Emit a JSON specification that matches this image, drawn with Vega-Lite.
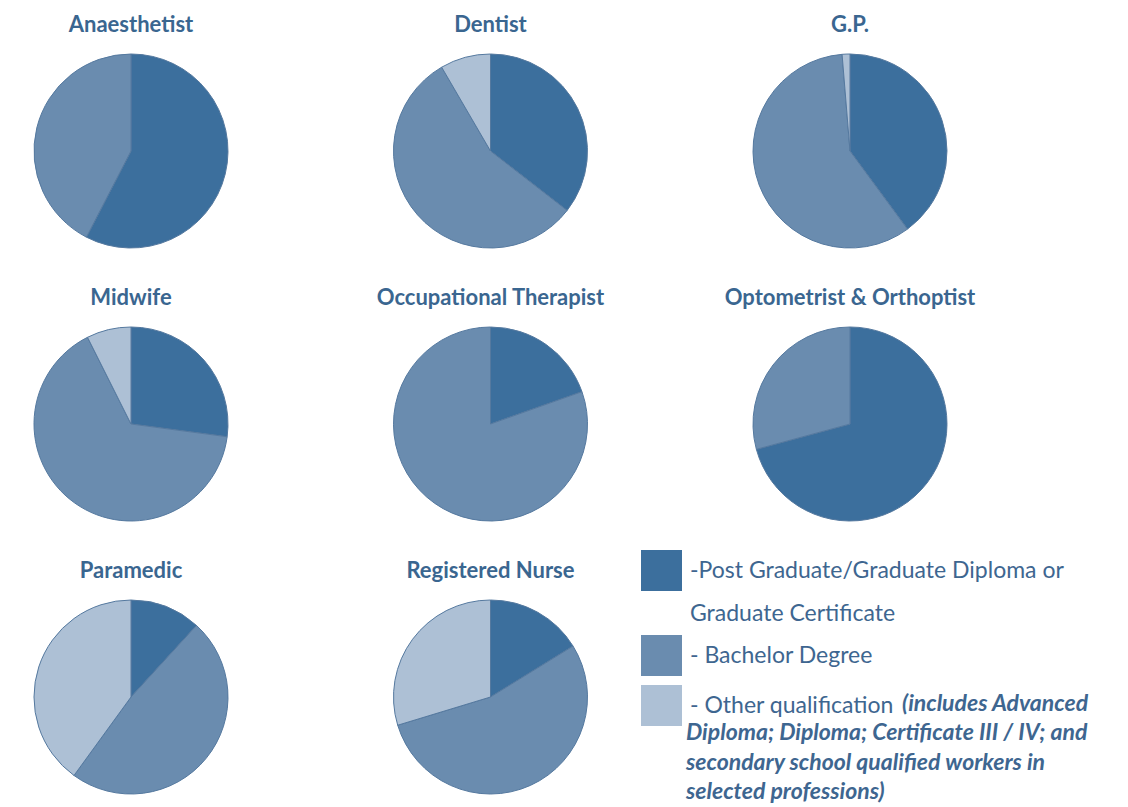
{
  "$schema": "https://vega.github.io/schema/vega-lite/v6.json",
  "width": 1128,
  "height": 807,
  "padding": 0,
  "autosize": {"type": "none"},
  "background": "white",
  "config": {"view": {"stroke": null}, "style": {"guide-label": {"lineHeight": 43}}},
  "datasets": {
    "pies": [
      {"job": "Anaesthetist", "col": 0, "row": 0, "qual": "Post Graduate/Graduate Diploma or Graduate Certificate", "order": 1, "pct": 57.6},
      {"job": "Anaesthetist", "col": 0, "row": 0, "qual": "Bachelor Degree", "order": 2, "pct": 42.4},
      {"job": "Dentist", "col": 1, "row": 0, "qual": "Post Graduate/Graduate Diploma or Graduate Certificate", "order": 1, "pct": 35.5},
      {"job": "Dentist", "col": 1, "row": 0, "qual": "Bachelor Degree", "order": 2, "pct": 56.1},
      {"job": "Dentist", "col": 1, "row": 0, "qual": "Other qualification", "order": 3, "pct": 8.4},
      {"job": "G.P.", "col": 2, "row": 0, "qual": "Post Graduate/Graduate Diploma or Graduate Certificate", "order": 1, "pct": 39.9},
      {"job": "G.P.", "col": 2, "row": 0, "qual": "Bachelor Degree", "order": 2, "pct": 58.8},
      {"job": "G.P.", "col": 2, "row": 0, "qual": "Other qualification", "order": 3, "pct": 1.3},
      {"job": "Midwife", "col": 0, "row": 1, "qual": "Post Graduate/Graduate Diploma or Graduate Certificate", "order": 1, "pct": 27.1},
      {"job": "Midwife", "col": 0, "row": 1, "qual": "Bachelor Degree", "order": 2, "pct": 65.5},
      {"job": "Midwife", "col": 0, "row": 1, "qual": "Other qualification", "order": 3, "pct": 7.4},
      {"job": "Occupational Therapist", "col": 1, "row": 1, "qual": "Post Graduate/Graduate Diploma or Graduate Certificate", "order": 1, "pct": 19.6},
      {"job": "Occupational Therapist", "col": 1, "row": 1, "qual": "Bachelor Degree", "order": 2, "pct": 80.4},
      {"job": "Optometrist & Orthoptist", "col": 2, "row": 1, "qual": "Post Graduate/Graduate Diploma or Graduate Certificate", "order": 1, "pct": 70.8},
      {"job": "Optometrist & Orthoptist", "col": 2, "row": 1, "qual": "Bachelor Degree", "order": 2, "pct": 29.2},
      {"job": "Paramedic", "col": 0, "row": 2, "qual": "Post Graduate/Graduate Diploma or Graduate Certificate", "order": 1, "pct": 11.8},
      {"job": "Paramedic", "col": 0, "row": 2, "qual": "Bachelor Degree", "order": 2, "pct": 48.2},
      {"job": "Paramedic", "col": 0, "row": 2, "qual": "Other qualification", "order": 3, "pct": 40.0},
      {"job": "Registered Nurse", "col": 1, "row": 2, "qual": "Post Graduate/Graduate Diploma or Graduate Certificate", "order": 1, "pct": 16.2},
      {"job": "Registered Nurse", "col": 1, "row": 2, "qual": "Bachelor Degree", "order": 2, "pct": 54.1},
      {"job": "Registered Nurse", "col": 1, "row": 2, "qual": "Other qualification", "order": 3, "pct": 29.7}
    ],
    "titles": [
      {"job": "Anaesthetist", "col": 0, "row": 0},
      {"job": "Dentist", "col": 1, "row": 0},
      {"job": "G.P.", "col": 2, "row": 0},
      {"job": "Midwife", "col": 0, "row": 1},
      {"job": "Occupational Therapist", "col": 1, "row": 1},
      {"job": "Optometrist & Orthoptist", "col": 2, "row": 1},
      {"job": "Paramedic", "col": 0, "row": 2},
      {"job": "Registered Nurse", "col": 1, "row": 2}
    ],
    "noteHead": [
      {"col": 2, "row": 2, "note": "(includes Advanced"}
    ],
    "noteBody": [
      {"col": 2, "row": 2, "note": ["Diploma; Diploma; Certificate III / IV; and", "secondary school  qualified workers in", "selected professions)"]}
    ]
  },
  "layer": [
    {
      "data": {"name": "pies"},
      "transform": [
        {"stack": "pct", "groupby": ["job"], "sort": [{"field": "order", "order": "ascending"}], "as": ["p0", "p1"]}
      ],
      "mark": {"type": "arc", "outerRadius": 97, "stroke": "#55799f", "strokeWidth": 1},
      "encoding": {
        "x": {"field": "col", "type": "ordinal", "scale": {"type": "point", "domain": [0, 1, 2], "range": [131, 850], "padding": 0}, "axis": null},
        "y": {"field": "row", "type": "ordinal", "scale": {"type": "point", "domain": [0, 1, 2], "range": [151, 697], "padding": 0}, "axis": null},
        "theta": {"field": "p0", "type": "quantitative", "scale": {"domain": [0, 100]}},
        "theta2": {"field": "p1"},
        "color": {
          "field": "qual",
          "type": "nominal",
          "scale": {
            "domain": ["Post Graduate/Graduate Diploma or Graduate Certificate", "Bachelor Degree", "Other qualification"],
            "range": ["#3c6f9d", "#6a8caf", "#adc0d5"]
          },
          "legend": {
            "orient": "none",
            "legendX": 641,
            "legendY": 550,
            "title": null,
            "symbolType": "square",
            "symbolSize": 1681,
            "symbolStrokeWidth": 0,
            "symbolOpacity": 1,
            "rowPadding": 9,
            "labelOffset": 8,
            "labelLimit": 700,
            "labelFont": "Lato",
            "labelFontSize": 23,
            "labelColor": "#3e6690",
            "labelExpr": "datum.value == 'Bachelor Degree' ? '- Bachelor Degree' : datum.value == 'Other qualification' ? '- Other qualification' : ['-Post Graduate/Graduate Diploma or', 'Graduate Certificate']"
          }
        }
      }
    },
    {
      "data": {"name": "titles"},
      "mark": {"type": "text", "dy": -126, "font": "Lato", "fontWeight": "bold", "fontSize": 22, "color": "#3a6690", "baseline": "middle"},
      "encoding": {
        "x": {"field": "col", "type": "ordinal", "scale": {"type": "point", "domain": [0, 1, 2], "range": [131, 850], "padding": 0}, "axis": null},
        "y": {"field": "row", "type": "ordinal", "scale": {"type": "point", "domain": [0, 1, 2], "range": [151, 697], "padding": 0}, "axis": null},
        "text": {"field": "job"}
      }
    },
    {
      "data": {"name": "noteHead"},
      "mark": {"type": "text", "dx": 52, "dy": 7, "align": "left", "baseline": "middle", "font": "Lato", "fontStyle": "italic", "fontWeight": "bold", "fontSize": 23, "color": "#3e6690"},
      "encoding": {
        "x": {"field": "col", "type": "ordinal", "scale": {"type": "point", "domain": [0, 1, 2], "range": [131, 850], "padding": 0}, "axis": null},
        "y": {"field": "row", "type": "ordinal", "scale": {"type": "point", "domain": [0, 1, 2], "range": [151, 697], "padding": 0}, "axis": null},
        "text": {"field": "note"}
      }
    },
    {
      "data": {"name": "noteBody"},
      "mark": {"type": "text", "dx": -164, "dy": 36, "align": "left", "baseline": "middle", "lineHeight": 29.5, "font": "Lato", "fontStyle": "italic", "fontWeight": "bold", "fontSize": 23, "color": "#3e6690"},
      "encoding": {
        "x": {"field": "col", "type": "ordinal", "scale": {"type": "point", "domain": [0, 1, 2], "range": [131, 850], "padding": 0}, "axis": null},
        "y": {"field": "row", "type": "ordinal", "scale": {"type": "point", "domain": [0, 1, 2], "range": [151, 697], "padding": 0}, "axis": null},
        "text": {"field": "note"}
      }
    }
  ]
}
